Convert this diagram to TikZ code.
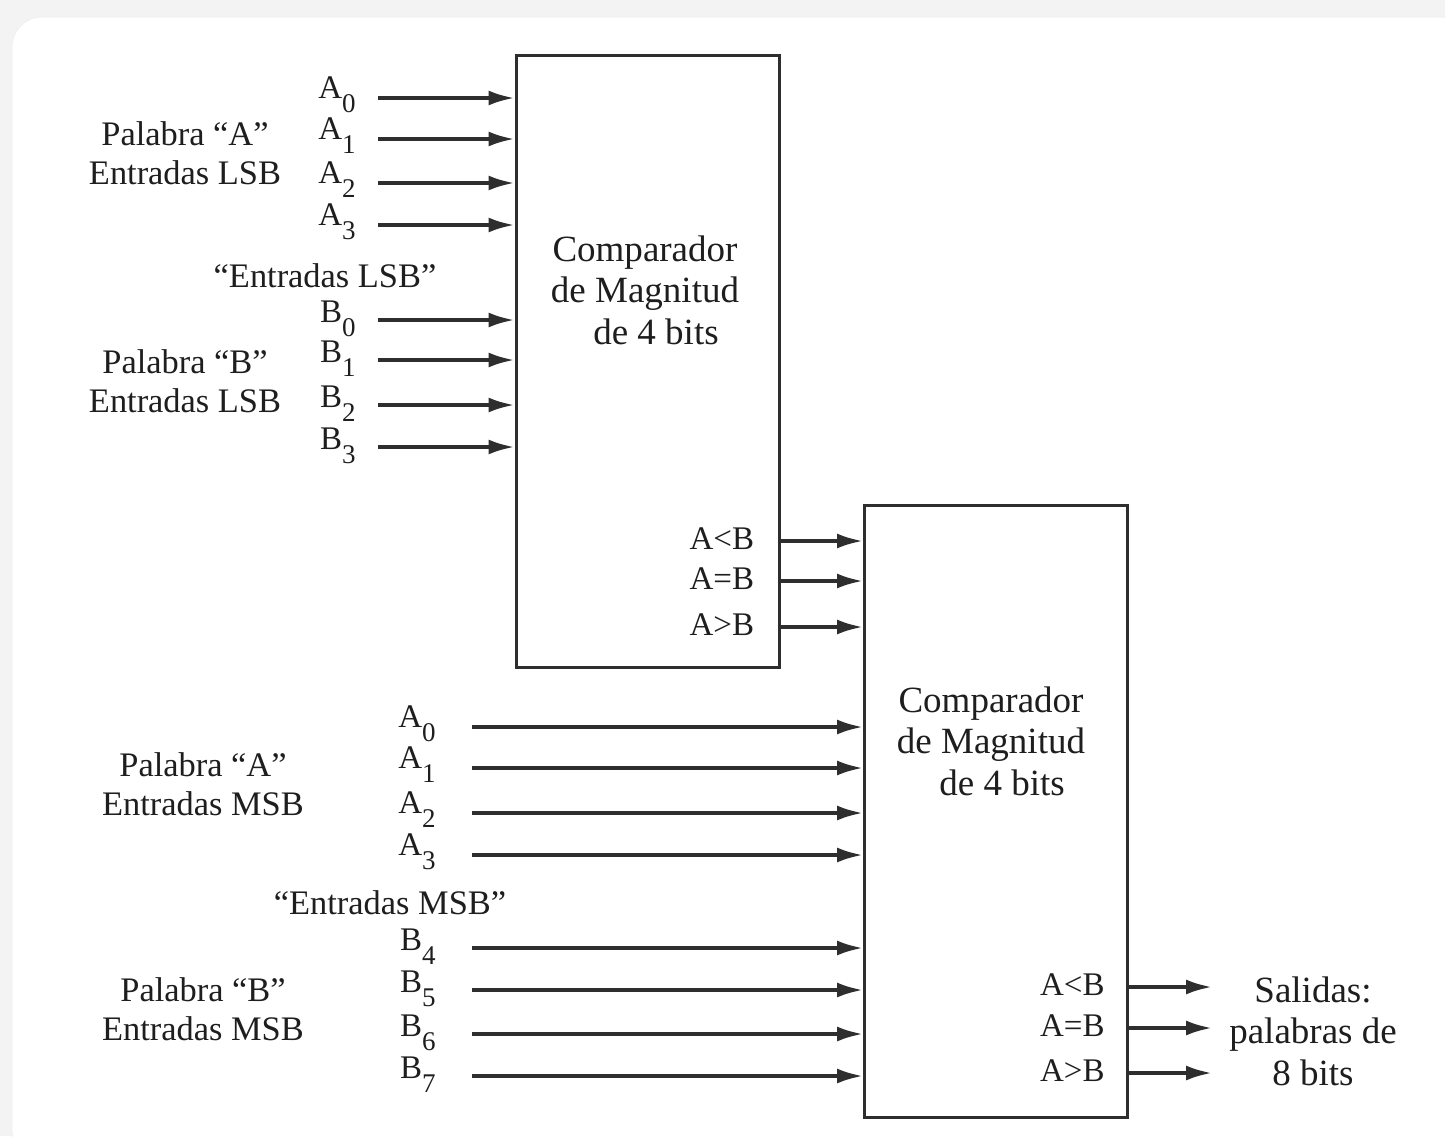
\documentclass[tikz,border=0pt]{standalone}
\usepackage{fontspec}
\setmainfont{Liberation Serif}
\usetikzlibrary{arrows.meta}
\definecolor{ink}{HTML}{1E1E1E}
\definecolor{wire}{HTML}{2E2E2E}
\definecolor{page}{HTML}{F3F3F3}
\newcommand{\sub}[1]{\raisebox{-0.45em}{\fontsize{13.5}{14}\selectfont #1}}
\tikzset{
  sig/.style={line width=1.8pt,draw=wire,-{Latex[length=13pt,width=7.5pt]}},
  cmpbox/.style={draw=wire,line width=1.5pt,minimum width=131.5pt,minimum height=306pt,inner sep=0pt},
  txt/.style={text=ink,font=\fontsize{17.2}{19.5}\selectfont,inner sep=0pt,align=center},
  bigtxt/.style={txt,font=\fontsize{18.5}{20.8}\selectfont},
  pintxt/.style={txt,font=\fontsize{16.5}{19}\selectfont},
}
\begin{document}
\begin{tikzpicture}[x=0.5pt,y=-0.5pt]
  \useasboundingbox (0,0) rectangle (1445,1136);
  % card
  \fill[page] (0,0) rectangle (1445,1136);
  \begin{scope}
    \clip (0,0) rectangle (1445,1136);
    \fill[white,draw=black!6] (12,17) [rounded corners=15pt] rectangle (1470,1160);
  \end{scope}
  % comparators
  \node[cmpbox] (cmpL) at (647.5,361) {};
  \node[cmpbox] (cmpM) at (996,811) {};
  \node[bigtxt] (titL) at (645,290) {Comparador\\de Magnitud\\\hspace*{11pt}de 4 bits};
  \node[bigtxt] (titM) at (991,741) {Comparador\\de Magnitud\\\hspace*{11pt}de 4 bits};
  % LSB inputs
  \foreach \i/\y in {0/98,1/139,2/183,3/225} {
    \coordinate (sa\i) at (378,\y);
    \node[pintxt,anchor=base east] (la\i) at ([xshift=-11pt]sa\i) {A\sub{\i}};
    \draw[sig] (sa\i) -- (sa\i -| cmpL.west);
  }
  \foreach \i/\y in {0/320,1/360,2/405,3/447} {
    \coordinate (sb\i) at (378,\y);
    \node[pintxt,anchor=base east] (lb\i) at ([xshift=-11pt,yshift=-1pt]sb\i) {B\sub{\i}};
    \draw[sig] (sb\i) -- (sb\i -| cmpL.west);
  }
  \node[txt] (wAL) at (185,153) {Palabra “A”\\Entradas LSB};
  \node[txt] (qL) at (325,276) {“Entradas LSB”};
  \node[txt] (wBL) at (185,381) {Palabra “B”\\Entradas LSB};
  % MSB inputs
  \foreach \i/\y in {0/727,1/768,2/813,3/855} {
    \coordinate (ma\i) at (472,\y);
    \node[pintxt,anchor=base east] (ma\i l) at ([xshift=-18pt]ma\i) {A\sub{\i}};
    \draw[sig] (ma\i) -- (ma\i -| cmpM.west);
  }
  \foreach \i/\y in {4/948,5/990,6/1034,7/1076} {
    \coordinate (mb\i) at (472,\y);
    \node[pintxt,anchor=base east] (mb\i l) at ([xshift=-18pt,yshift=-1pt]mb\i) {B\sub{\i}};
    \draw[sig] (mb\i) -- (mb\i -| cmpM.west);
  }
  \node[txt] (wAM) at (203,784) {Palabra “A”\\Entradas MSB};
  \node[txt] (qM) at (390,903) {“Entradas MSB”};
  \node[txt] (wBM) at (203,1009) {Palabra “B”\\Entradas MSB};
  % cascade and outputs
  \foreach \n/\t/\y in {lt/A<B/541,eq/A=B/581,gt/A>B/627} {
    \coordinate (c\n) at (cmpL.east |- 0,\y);
    \node[pintxt,anchor=east] (lc\n) at ([xshift=-13pt,yshift=1pt]c\n) {\t};
    \draw[sig] (c\n) -- (c\n -| cmpM.west);
  }
  \node[bigtxt] (res) at (1313,1031) {Salidas:\\palabras de\\8 bits};
  \foreach \n/\t/\y in {lt/A<B/987,eq/A=B/1028,gt/A>B/1073} {
    \coordinate (o\n) at (cmpM.east |- 0,\y);
    \node[pintxt,anchor=east] (lo\n) at ([xshift=-12pt,yshift=1pt]o\n) {\t};
    \draw[sig] (o\n) -- (1212,\y);
  }
\end{tikzpicture}
\end{document}
